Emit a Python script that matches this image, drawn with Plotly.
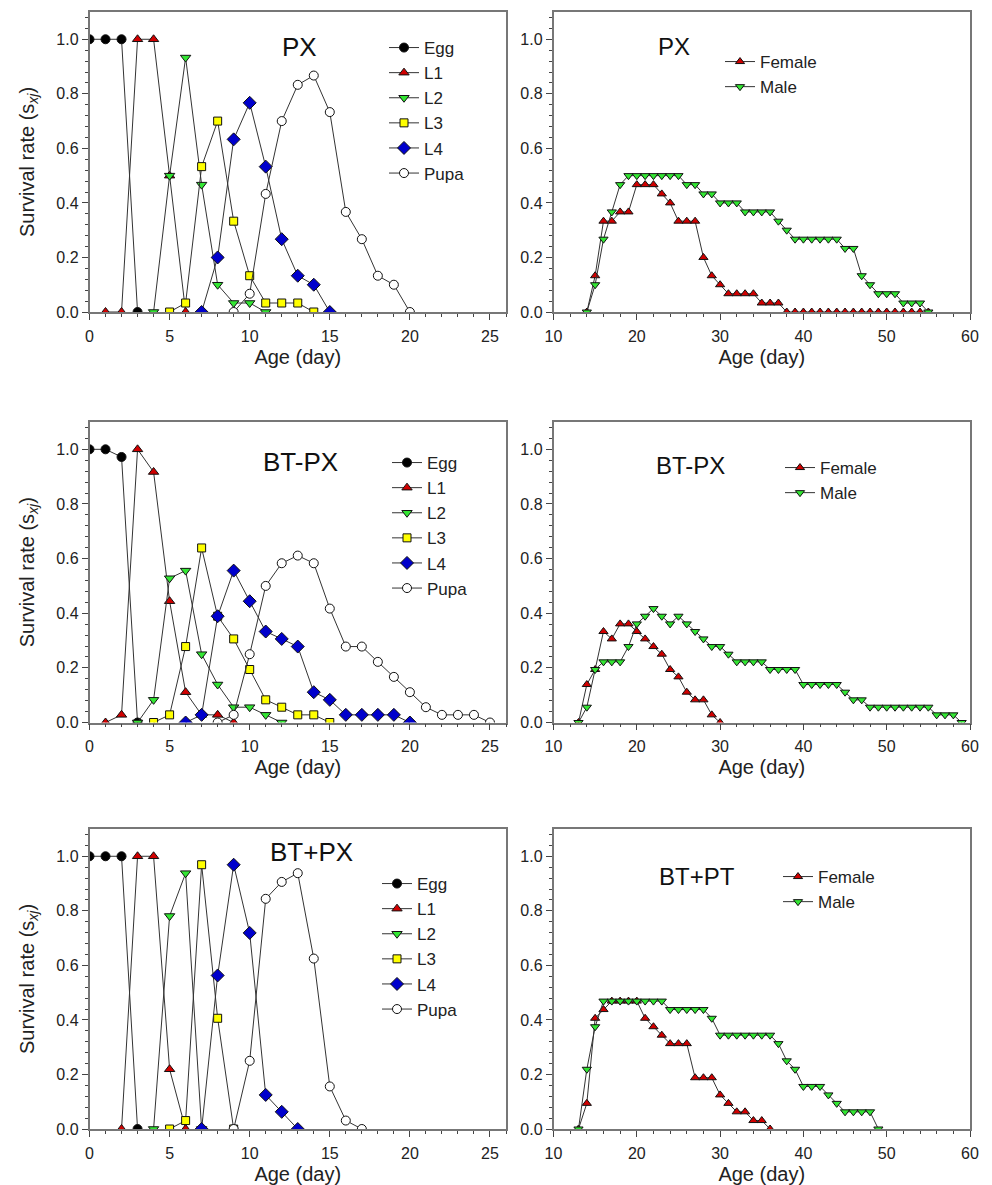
import plotly.graph_objects as go

# the page has an 8px body margin, so the figure is drawn 8px in from the window edge
OFF = 8
W, H = 992 - OFF, 1185 - OFF
FONT = "Arial, Liberation Sans, sans-serif"

# ---------------- immature stages (left column) ----------------
# PX
px_egg_age = [0, 1, 2, 3]
px_egg = [1.0, 1.0, 1.0, 0.0]
px_l1_age = [1, 2, 3, 4, 5, 6]
px_l1 = [0.0, 0.0, 1.0, 1.0, 0.5, 0.0]
px_l2_age = [4, 5, 6, 7, 8, 9, 10, 11]
px_l2 = [0.0, 0.5, 0.933, 0.467, 0.1, 0.033, 0.033, 0.0]
px_l3_age = [5, 6, 7, 8, 9, 10, 11, 12, 13, 14]
px_l3 = [0.0, 0.033, 0.533, 0.7, 0.333, 0.133, 0.033, 0.033, 0.033, 0.0]
px_l4_age = [7, 8, 9, 10, 11, 12, 13, 14, 15]
px_l4 = [0.0, 0.2, 0.633, 0.767, 0.533, 0.267, 0.133, 0.1, 0.0]
px_pupa_age = [9, 10, 11, 12, 13, 14, 15, 16, 17, 18, 19, 20]
px_pupa = [0.0, 0.067, 0.433, 0.7, 0.833, 0.867, 0.733, 0.367, 0.267, 0.133, 0.1, 0.0]

# BT-PX
btm_egg_age = [0, 1, 2, 3]
btm_egg = [1.0, 1.0, 0.972, 0.0]
btm_l1_age = [1, 2, 3, 4, 5, 6, 7, 8, 9]
btm_l1 = [0.0, 0.028, 1.0, 0.917, 0.444, 0.111, 0.028, 0.028, 0.0]
btm_l2_age = [3, 4, 5, 6, 7, 8, 9, 10, 11, 12]
btm_l2 = [0.0, 0.083, 0.528, 0.556, 0.25, 0.139, 0.056, 0.056, 0.028, 0.0]
btm_l3_age = [4, 5, 6, 7, 8, 9, 10, 11, 12, 13, 14, 15]
btm_l3 = [0.0, 0.028, 0.278, 0.639, 0.389, 0.306, 0.194, 0.083, 0.056, 0.028, 0.028, 0.0]
btm_l4_age = [6, 7, 8, 9, 10, 11, 12, 13, 14, 15, 16, 17, 18, 19, 20]
btm_l4 = [0.0, 0.028, 0.389, 0.556, 0.444, 0.333, 0.306, 0.278, 0.111, 0.083,
          0.028, 0.028, 0.028, 0.028, 0.0]
btm_pupa_age = [8, 9, 10, 11, 12, 13, 14, 15, 16, 17, 18, 19, 20, 21, 22, 23, 24, 25]
btm_pupa = [0.0, 0.028, 0.25, 0.5, 0.583, 0.611, 0.583, 0.417, 0.278, 0.278,
            0.222, 0.167, 0.111, 0.056, 0.028, 0.028, 0.028, 0.0]

# BT+PX
btp_egg_age = [0, 1, 2, 3]
btp_egg = [1.0, 1.0, 1.0, 0.0]
btp_l1_age = [2, 3, 4, 5, 6]
btp_l1 = [0.0, 1.0, 1.0, 0.219, 0.0]
btp_l2_age = [4, 5, 6, 7]
btp_l2 = [0.0, 0.781, 0.938, 0.0]
btp_l3_age = [5, 6, 7, 8, 9]
btp_l3 = [0.0, 0.031, 0.969, 0.406, 0.0]
btp_l4_age = [7, 8, 9, 10, 11, 12, 13]
btp_l4 = [0.0, 0.563, 0.969, 0.719, 0.125, 0.063, 0.0]
btp_pupa_age = [9, 10, 11, 12, 13, 14, 15, 16, 17]
btp_pupa = [0.0, 0.25, 0.844, 0.906, 0.938, 0.625, 0.156, 0.031, 0.0]

# ---------------- adults (right column) ----------------
px_female_age = list(range(14, 56))
px_female = [0.0, 0.133, 0.333, 0.333, 0.367, 0.367, 0.467, 0.467, 0.467, 0.433,
             0.4, 0.333, 0.333, 0.333, 0.2, 0.133, 0.1, 0.067, 0.067, 0.067,
             0.067, 0.033, 0.033, 0.033, 0.0, 0.0, 0.0, 0.0, 0.0, 0.0,
             0.0, 0.0, 0.0, 0.0, 0.0, 0.0, 0.0, 0.0, 0.0, 0.0, 0.0, 0.0]
px_male_age = list(range(14, 56))
px_male = [0.0, 0.1, 0.267, 0.367, 0.467, 0.5, 0.5, 0.5, 0.5, 0.5,
           0.5, 0.5, 0.467, 0.467, 0.433, 0.433, 0.4, 0.4, 0.4, 0.367,
           0.367, 0.367, 0.367, 0.333, 0.3, 0.267, 0.267, 0.267, 0.267, 0.267,
           0.267, 0.233, 0.233, 0.133, 0.1, 0.067, 0.067, 0.067, 0.033, 0.033,
           0.033, 0.0]

btm_female_age = list(range(13, 31))
btm_female = [0.0, 0.139, 0.194, 0.333, 0.306, 0.361, 0.361, 0.333, 0.306, 0.278,
              0.25, 0.194, 0.167, 0.111, 0.083, 0.083, 0.028, 0.0]
btm_male_age = list(range(13, 60))
btm_male = [0.0, 0.056, 0.194, 0.222, 0.222, 0.222, 0.278, 0.361, 0.389, 0.417,
            0.389, 0.361, 0.389, 0.361, 0.333, 0.306, 0.278, 0.278, 0.25, 0.222,
            0.222, 0.222, 0.222, 0.194, 0.194, 0.194, 0.194, 0.139, 0.139, 0.139,
            0.139, 0.139, 0.111, 0.083, 0.083, 0.056, 0.056, 0.056, 0.056, 0.056,
            0.056, 0.056, 0.056, 0.028, 0.028, 0.028, 0.0]

btp_female_age = list(range(13, 37))
btp_female = [0.0, 0.094, 0.406, 0.438, 0.469, 0.469, 0.469, 0.469, 0.406, 0.375,
              0.344, 0.313, 0.313, 0.313, 0.188, 0.188, 0.188, 0.125, 0.094, 0.063,
              0.063, 0.031, 0.031, 0.0]
btp_male_age = list(range(13, 50))
btp_male = [0.0, 0.219, 0.375, 0.469, 0.469, 0.469, 0.469, 0.469, 0.469, 0.469,
            0.469, 0.438, 0.438, 0.438, 0.438, 0.438, 0.406, 0.344, 0.344, 0.344,
            0.344, 0.344, 0.344, 0.344, 0.313, 0.25, 0.219, 0.156, 0.156, 0.156,
            0.125, 0.094, 0.063, 0.063, 0.063, 0.063, 0.0]

STAGE_STYLE = {
    "Egg":  dict(symbol="circle", color="#000000", size=9),
    "L1":   dict(symbol="triangle-up", color="#d00000", size=9),
    "L2":   dict(symbol="triangle-down", color="#33e633", size=9),
    "L3":   dict(symbol="square", color="#ffff00", size=8),
    "L4":   dict(symbol="diamond", color="#0000cc", size=10),
    "Pupa": dict(symbol="circle", color="#ffffff", size=9),
    "Female": dict(symbol="triangle-up", color="#d00000", size=8),
    "Male": dict(symbol="triangle-down", color="#33e633", size=8),
}

left_panels = [
    ("PX", [("Egg", px_egg_age, px_egg), ("L1", px_l1_age, px_l1), ("L2", px_l2_age, px_l2),
            ("L3", px_l3_age, px_l3), ("L4", px_l4_age, px_l4), ("Pupa", px_pupa_age, px_pupa)]),
    ("BT-PX", [("Egg", btm_egg_age, btm_egg), ("L1", btm_l1_age, btm_l1), ("L2", btm_l2_age, btm_l2),
               ("L3", btm_l3_age, btm_l3), ("L4", btm_l4_age, btm_l4), ("Pupa", btm_pupa_age, btm_pupa)]),
    ("BT+PX", [("Egg", btp_egg_age, btp_egg), ("L1", btp_l1_age, btp_l1), ("L2", btp_l2_age, btp_l2),
               ("L3", btp_l3_age, btp_l3), ("L4", btp_l4_age, btp_l4), ("Pupa", btp_pupa_age, btp_pupa)]),
]
right_panels = [
    ("PX", [("Female", px_female_age, px_female), ("Male", px_male_age, px_male)]),
    ("BT-PX", [("Female", btm_female_age, btm_female), ("Male", btm_male_age, btm_male)]),
    ("BT+PT", [("Female", btp_female_age, btp_female), ("Male", btp_male_age, btp_male)]),
]

# window-pixel layout of the frames (top, bottom) per row, (left, right) per column
ROWS = [(12, 312), (422, 722.5), (829, 1129)]
COLS = [(89.5, 506), (553.5, 970)]
# title centres and legend anchors, in window pixels
LEFT_TITLE = [(299, 47), (300, 462), (311, 852)]
RIGHT_TITLE = [(674, 46), (690, 466), (697, 876)]
LEFT_LEG = [(384, 30), (387, 445), (377, 866)]
RIGHT_LEG = [(720, 44), (780, 450), (778, 859)]


def fx(p):
    return (p - OFF) / W


def fy(p):
    return 1 - (p - OFF) / H


fig = go.Figure()
annotations = []

for r in range(3):
    for c in range(2):
        idx = r * 2 + c + 1
        sfx = "" if idx == 1 else str(idx)
        title, series = (left_panels if c == 0 else right_panels)[r]
        leg = "legend" if idx == 1 else "legend%d" % idx
        for name, ages, vals in series:
            st = STAGE_STYLE[name]
            fig.add_trace(go.Scatter(
                x=ages, y=vals, name=name, mode="lines+markers",
                xaxis="x" + sfx, yaxis="y" + sfx, legend=leg,
                line=dict(color="#333333", width=1),
                marker=dict(symbol=st["symbol"], color=st["color"], size=st["size"],
                            line=dict(color="#111111", width=1)),
            ))

        top, bot = ROWS[r]
        left, right = COLS[c]
        xa = dict(
            domain=[fx(left), fx(right)], anchor="y" + sfx, automargin=False,
            range=[0, 26] if c == 0 else [10, 60],
            dtick=5 if c == 0 else 10, tick0=0,
            ticks="outside", ticklen=6, tickcolor="#444444", tickwidth=1,
            ticklabelstandoff=3,
            minor=dict(ticks="outside", ticklen=3, dtick=1 if c == 0 else 2,
                       tickcolor="#444444"),
            showline=True, linecolor="#777777", linewidth=1.5, mirror=True,
            showgrid=False, zeroline=False,
            tickfont=dict(size=16, color="#222222"),
            title=dict(text="Age (day)", font=dict(size=20, color="#222222"), standoff=6),
        )
        ya = dict(
            domain=[fy(bot), fy(top)], anchor="x" + sfx, automargin=False,
            range=[0, 1.1], dtick=0.2, tick0=0, tickformat=".1f",
            ticks="outside", ticklen=6, tickcolor="#444444", tickwidth=1,
            minor=dict(ticks="outside", ticklen=3, dtick=0.04, tickcolor="#444444"),
            showline=True, linecolor="#777777", linewidth=1.5, mirror=True,
            showgrid=False, zeroline=False,
            tickfont=dict(size=16, color="#222222"),
        )
        if c == 0:
            ya["title"] = dict(text="Survival rate (s<sub><i>xj</i></sub>)",
                               font=dict(size=20, color="#222222"), standoff=16)
        fig.layout["xaxis" + sfx] = xa
        fig.layout["yaxis" + sfx] = ya

        tx, ty = (LEFT_TITLE if c == 0 else RIGHT_TITLE)[r]
        annotations.append(dict(
            text=title, x=fx(tx), y=fy(ty), xref="paper", yref="paper",
            xanchor="center", yanchor="middle", showarrow=False,
            font=dict(size=26 if c == 0 else 24, color="#111111"),
        ))
        lx, ly = (LEFT_LEG if c == 0 else RIGHT_LEG)[r]
        fig.layout[leg] = dict(
            x=fx(lx), y=fy(ly), xanchor="left", yanchor="top",
            bgcolor="rgba(0,0,0,0)", font=dict(size=17, color="#222222"),
            itemsizing="trace", tracegroupgap=0,
        )

fig.update_layout(
    width=W, height=H,
    margin=dict(l=0, r=0, t=0, b=0),
    paper_bgcolor="white", plot_bgcolor="white",
    font=dict(family=FONT, color="#222222"),
    annotations=annotations,
    showlegend=True,
)

fig.write_html("out.html")
